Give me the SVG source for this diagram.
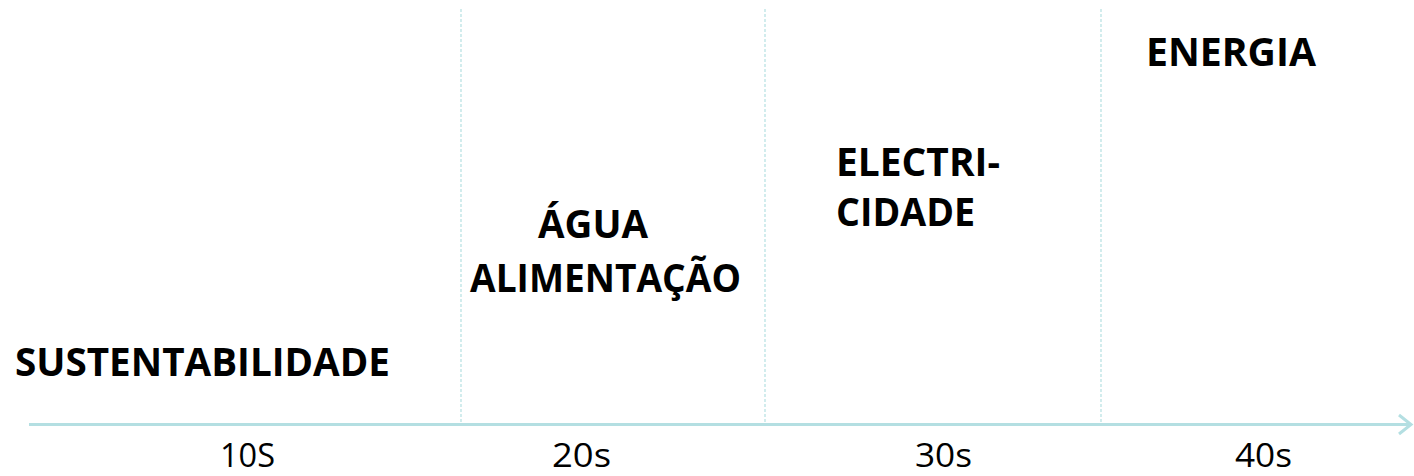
<svg xmlns="http://www.w3.org/2000/svg" width="1414" height="476" viewBox="0 0 1414 476">
<style>
.lbl{font-family:"Open Sans","DejaVu Sans",sans-serif;font-weight:bold;font-size:40px;fill:#000}
.tick{font-family:"Open Sans","DejaVu Sans",sans-serif;font-size:33px;fill:#000}
.div{stroke:#B4DFE2;stroke-width:1.2;stroke-dasharray:3,2;fill:none}
.axis{stroke:#B4DFE2;stroke-width:3;fill:none}
</style>
<rect width="1414" height="476" fill="#fff"/>
<g id="connectors">
<line class="div" x1="461" y1="9" x2="461" y2="424"/>
<line class="div" x1="765" y1="9" x2="765" y2="424"/>
<line class="div" x1="1101" y1="9" x2="1101" y2="424"/>
<line class="axis" x1="29" y1="424.5" x2="1410" y2="424.5"/>
<polyline class="axis" points="1399,415 1411,424.5 1399,434"/>
</g>
<g id="n-sustentabilidade"><text class="lbl" x="15" y="376" textLength="375" lengthAdjust="spacingAndGlyphs">SUSTENTABILIDADE</text></g>
<g id="n-agua"><text class="lbl" x="538" y="238" textLength="110" lengthAdjust="spacingAndGlyphs">ÁGUA</text>
<text class="lbl" x="470" y="292" textLength="271" lengthAdjust="spacingAndGlyphs">ALIMENTAÇÃO</text></g>
<g id="n-electricidade"><text class="lbl" x="836" y="176" textLength="164" lengthAdjust="spacingAndGlyphs">ELECTRI-</text>
<text class="lbl" x="836" y="226" textLength="139" lengthAdjust="spacingAndGlyphs">CIDADE</text></g>
<g id="n-energia"><text class="lbl" x="1146" y="66" textLength="170" lengthAdjust="spacingAndGlyphs">ENERGIA</text></g>
<g id="ticks">
<text class="tick" x="220" y="467" textLength="55" lengthAdjust="spacingAndGlyphs">10S</text>
<text class="tick" x="552" y="467" textLength="59" lengthAdjust="spacingAndGlyphs">20s</text>
<text class="tick" x="915" y="467" textLength="57" lengthAdjust="spacingAndGlyphs">30s</text>
<text class="tick" x="1235" y="467" textLength="57" lengthAdjust="spacingAndGlyphs">40s</text>
</g>
</svg>
